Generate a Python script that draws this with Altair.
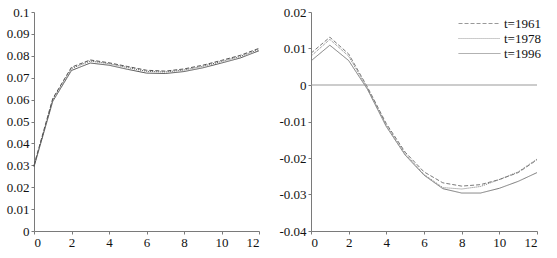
import altair as alt
import pandas as pd

horizon = list(range(13))
series_names = ["t=1961", "t=1978", "t=1996"]

left_1961 = [0.0300, 0.0605, 0.0748, 0.0781, 0.0768, 0.0751, 0.0734, 0.0730, 0.0740, 0.0757, 0.0779, 0.0802, 0.0834]
left_1978 = [0.0297, 0.0600, 0.0742, 0.0776, 0.0764, 0.0746, 0.0729, 0.0726, 0.0735, 0.0752, 0.0774, 0.0797, 0.0829]
left_1996 = [0.0293, 0.0592, 0.0733, 0.0767, 0.0757, 0.0738, 0.0721, 0.0719, 0.0728, 0.0745, 0.0767, 0.0790, 0.0823]

right_1961 = [0.0087, 0.0131, 0.0085, -0.0006, -0.0106, -0.0184, -0.0238, -0.0268, -0.0277, -0.0273, -0.0259, -0.0240, -0.0205]
right_1978 = [0.0079, 0.0125, 0.0079, -0.0009, -0.0110, -0.0188, -0.0245, -0.0281, -0.0285, -0.0278, -0.0259, -0.0238, -0.0203]
right_1996 = [0.0066, 0.0109, 0.0067, -0.0012, -0.0114, -0.0192, -0.0247, -0.0284, -0.0296, -0.0296, -0.0283, -0.0264, -0.0240]

zero_line = [0.0]

left_ticks = [0, 0.01, 0.02, 0.03, 0.04, 0.05, 0.06, 0.07, 0.08, 0.09, 0.1]
right_ticks = [-0.04, -0.03, -0.02, -0.01, 0, 0.01, 0.02]
x_ticks = [0, 2, 4, 6, 8, 10, 12]


def frame(a, b, c):
    rows = []
    for name, vals in zip(series_names, [a, b, c]):
        for h, v in zip(horizon, vals):
            rows.append({"h": h, "v": v, "series": name})
    return pd.DataFrame(rows)


df_left = frame(left_1961, left_1978, left_1996)
df_right = frame(right_1961, right_1978, right_1996)

FONT = "Times New Roman, Liberation Serif, serif"
GRAY = "#7a7a7a"
label_expr = "datum.value == 0 ? '0' : (datum.value < 0 ? '-' : '') + format(abs(datum.value), '~g')"


def xaxis():
    return alt.Axis(values=x_ticks, grid=False, title=None, tickSize=3,
                    labelFont=FONT, labelFontSize=13, labelColor="#111", domainColor=GRAY,
                    tickColor=GRAY, labelPadding=2, labelOverlap=False)


def yaxis(vals):
    return alt.Axis(values=vals, grid=False, title=None, tickSize=3,
                    labelFont=FONT, labelFontSize=13, labelColor="#111", domainColor=GRAY,
                    tickColor=GRAY, labelExpr=label_expr, labelPadding=2, labelOverlap=False)


dash_scale = alt.Scale(domain=series_names, range=[[4, 2], [1, 1], [1, 0]])
xscale = alt.Scale(domain=[0, 12], nice=False)

left = alt.Chart(df_left).mark_line(strokeWidth=1, color="#555").encode(
    x=alt.X("h:Q", scale=xscale, axis=xaxis()),
    y=alt.Y("v:Q", scale=alt.Scale(domain=[0, 0.1], nice=False), axis=yaxis(left_ticks)),
    strokeDash=alt.StrokeDash("series:N", scale=dash_scale, legend=None),
).properties(width=225, height=219)

ry = alt.Scale(domain=[-0.04, 0.02], nice=False)

right_lines = alt.Chart(df_right).mark_line(strokeWidth=1, color=GRAY).encode(
    x=alt.X("h:Q", scale=xscale, axis=xaxis()),
    y=alt.Y("v:Q", scale=ry, axis=yaxis(right_ticks)),
    strokeDash=alt.StrokeDash("series:N", scale=dash_scale, legend=alt.Legend(
        title=None, orient="none", legendX=162, legendY=5, symbolType="M-4,0H4",
        symbolSize=110, symbolStrokeWidth=1, symbolStrokeColor="#999", labelFont=FONT,
        labelFontSize=13, labelColor="#111", rowPadding=1, labelOffset=18, padding=0)),
)

zero = alt.Chart(pd.DataFrame({"z": zero_line})).mark_rule(color="#999", strokeWidth=1).encode(
    y=alt.Y("z:Q", scale=ry, axis=yaxis(right_ticks))
)

right = alt.layer(right_lines, zero).properties(width=226, height=219)

chart = alt.hconcat(left, right, spacing=17).resolve_scale(strokeDash="independent").resolve_legend(
    strokeDash="independent").configure_view(stroke=None).properties(
    padding={"left": 6, "top": 6, "right": 5, "bottom": 5}
)

chart.save("out.html", embed_options={"renderer": "svg", "actions": False})
